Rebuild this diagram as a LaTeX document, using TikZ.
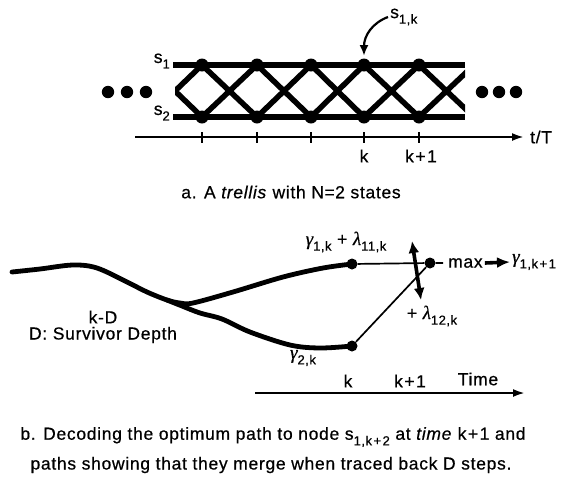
\documentclass[tikz,border=0pt]{standalone}
\usepackage{fontspec}
\setmainfont{Liberation Sans}[LetterSpace=4, FakeBold=0.6]
\newfontfamily\greekfont{Liberation Serif}[FakeBold=0.6]
\usetikzlibrary{arrows.meta, calc}

\newcommand\lo[1]{\raisebox{-0.6ex}{\fontsize{13}{14}\selectfont #1}}
\newcommand\gam{{\greekfont\itshape\fontsize{19}{20}\selectfont γ}}
\newcommand\lam{{\greekfont\itshape\fontsize{19}{20}\selectfont λ}}

\begin{document}
\begin{tikzpicture}[x=1pt, y=-1pt,
    trellis/.style={line width=5.5pt},
    survivor/.style={line width=4.8pt, line cap=round, line join=round},
    thinline/.style={line width=1.7pt},
    axis/.style={line width=2.2pt},
    fat/.style={line width=3.6pt},
    pathdot/.style={circle, fill, inner sep=0pt, minimum size=11pt},
    lbl/.style={font=\fontsize{17.5}{20}\selectfont, inner sep=2pt}]
    \useasboundingbox (0,0) rectangle (572,480);

    % Define the states of the trellis
    \coordinate (U0) at (148,65);
    \coordinate (U1) at (202,65);
    \coordinate (U2) at (257,65);
    \coordinate (U3) at (311,65);
    \coordinate (U4) at (364,65);
    \coordinate (U5) at (419,65);
    \coordinate (U6) at (474,65);
    \coordinate (L0) at (148,117);
    \coordinate (L1) at (202,117);
    \coordinate (L2) at (257,117);
    \coordinate (L3) at (311,117);
    \coordinate (L4) at (364,117);
    \coordinate (L5) at (419,117);
    \coordinate (L6) at (474,117);

    % Draw the state lines and the branches
    \draw[trellis] (173,65) -- (465,65);
    \draw[trellis] (173,117) -- (465,117);
    \begin{scope}
        \clip (175,40) rectangle (465,140);
        \draw[trellis] (U0) -- (L1) (L0) -- (U1)
                       (U1) -- (L2) (L1) -- (U2)
                       (U2) -- (L3) (L2) -- (U3)
                       (U3) -- (L4) (L3) -- (U4)
                       (U4) -- (L5) (L4) -- (U5)
                       (U5) -- (L6) (L5) -- (U6);
    \end{scope}
    \foreach \n in {1,...,5} {
        \fill (U\n) circle (6.5pt);
        \fill (L\n) circle (6.5pt);
    }

    % Dots on both sides
    \foreach \x in {108,127,146,482,499,516}
        \fill (\x,92) circle (6.2pt);

    % State labels
    \node[lbl, anchor=east] at (172,61) {s\lo{1}};
    \node[lbl, anchor=east] at (172,113) {s\lo{2}};
    \node[lbl, anchor=west] (SK) at (388,17) {s\lo{1,k}};
    \draw[line width=2.2pt, -{Latex[length=11pt,width=9pt]}, shorten >=9pt]
        (SK.west) .. controls (372,23) and (364,36) .. (U4);

    % Time axis
    \coordinate (T0) at (135,137);
    \coordinate (T1) at (524,137);
    \draw[axis, -{Latex[length=12pt,width=8pt]}] (T0) -- (T1);
    \foreach \n in {1,...,5}
        \draw[axis] ($(L\n)+(0,15)$) -- ($(L\n)+(0,26)$);
    \node[lbl, anchor=west] at ($(T1)+(4,0)$) {t/T};
    \node[lbl] at (364,156) {k};
    \node[lbl] at (421,156) {k\kern1.5pt+\kern1.5pt1};
    \node[lbl] at (291,192) {a. A \textit{trellis} with N\kern0.5pt=\kern0.5pt2 states};

    % Survivor paths
    \node[pathdot] (G1) at (352,264) {};
    \node[pathdot] (G2) at (352,346) {};
    \node[pathdot] (N1) at (430,263) {};
    \draw[survivor] plot[smooth, tension=0.55] coordinates {(12,272) (40,269) (73,265) (97,268)
        (127,282) (147,292) (167,300) (180,303) (193,303) (233,292) (283,277) (323,268) (G1)};
    \draw[survivor] plot[smooth, tension=0.55] coordinates {(167,300) (182,306) (200,313)
        (222,319) (250,332) (290,345) (320,348) (G2)};

    % Add-compare-select
    \node[lbl, anchor=west] (MAX) at (446,263) {max};
    \node[lbl, anchor=west] (G3) at (510,262) {\gam\lo{1,k\kern1.5pt+\kern1.5pt1}};
    \draw[thinline, shorten >=3pt] (G1) -- (N1) -- (MAX.west);
    \draw[thinline] (G2) -- (N1);
    \draw[fat, -{Latex[length=13pt,width=11pt]}] (MAX.east) -- (G3.west);
    \coordinate (V1) at (412,241);
    \coordinate (V2) at (421,300);
    \draw[fat, {Latex[length=12pt,width=11pt]}-{Latex[length=12pt,width=11pt]}] (V1) -- (V2);

    % Place the labels
    \node[lbl] at (346,242) {\gam\lo{1,k} + \lam\lo{11,k}};
    \node[lbl] at (432,316) {+ \lam\lo{12,k}};
    \node[lbl] at (303,358) {\gam\lo{2,k}};
    \node[lbl] at (103,317) {k-D};
    \node[lbl] at (103,335) {D: Survivor Depth};

    % Second time axis
    \coordinate (B0) at (255,393);
    \coordinate (B1) at (525,393);
    \draw[axis, -{Latex[length=12pt,width=8pt]}] (B0) -- (B1);
    \node[lbl] at (348,381) {k};
    \node[lbl] at (410,381) {k\kern1.5pt+\kern1.5pt1};
    \node[lbl] at (478,379) {Time};

    % Caption
    \node[lbl] at (273,437) {b. Decoding the optimum path to node s\lo{1,k\kern1.5pt+\kern1.5pt2} at \textit{time} k\kern1.5pt+\kern1.5pt1 and};
    \node[lbl] at (271,465) {paths showing that they merge when traced back D steps.};
\end{tikzpicture}
\end{document}
